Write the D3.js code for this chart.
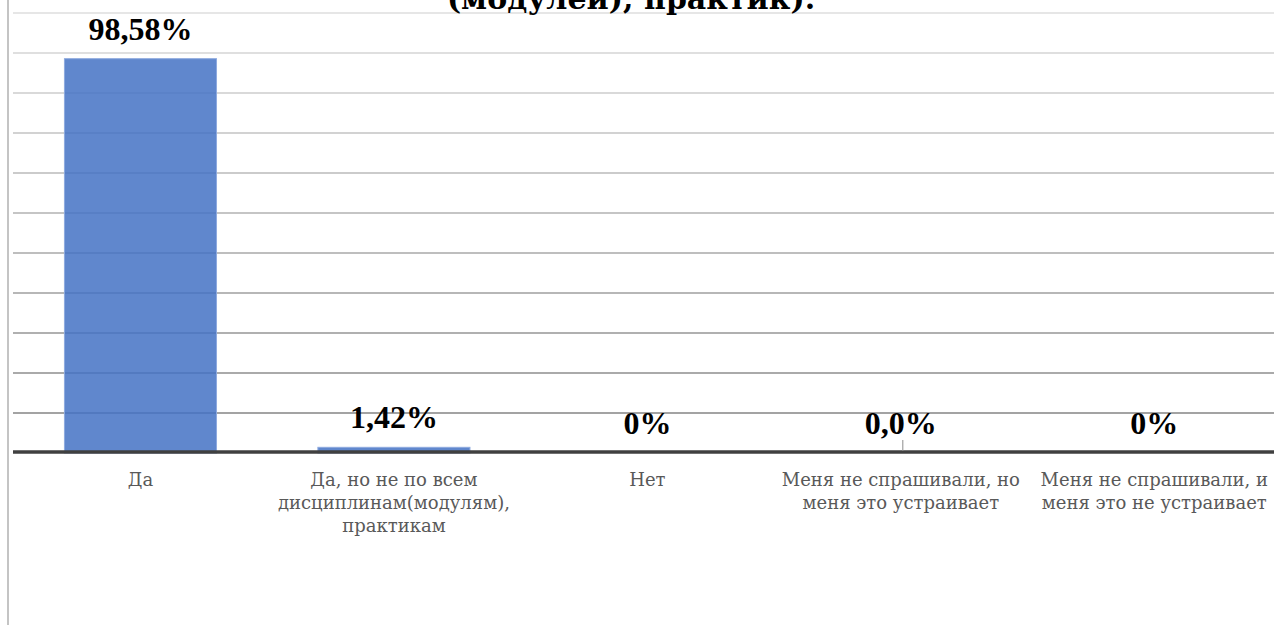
<!DOCTYPE html>
<html>
<head>
<meta charset="utf-8">
<script src="https://cdn.jsdelivr.net/npm/d3@7"></script>
<style>
  body { margin: 0; background: #fff; }
  #chart svg { display: block; }
</style>
</head>
<body>
<div id="chart"></div>
<script>
// data
var categories = ["Да", "Да, но не по всем дисциплинам(модулям), практикам", "Нет",
  "Меня не спрашивали, но меня это устраивает", "Меня не спрашивали, и меня это не устраивает"];
var labelLines = [
  ["Да"],
  ["Да, но не по всем", "дисциплинам(модулям),", "практикам"],
  ["Нет"],
  ["Меня не спрашивали, но", "меня это устраивает"],
  ["Меня не спрашивали, и", "меня это не устраивает"]
];
var values = [98.58, 1.42, 0, 0, 0];
var valueLabels = ["98,58%", "1,42%", "0%", "0,0%", "0%"];
var gridTicks = [10, 20, 30, 40, 50, 60, 70, 80, 90, 100, 110];
var titleText = "(модулей), практик).";

var W = 1274, H = 625;
var svg = d3.select("#chart").append("svg")
  .attr("width", W)
  .attr("height", H);

var x = d3.scaleBand()
  .domain(categories)
  .range([13.75, 1281])
  .paddingInner(0.4)
  .paddingOuter(0.2);

var y = d3.scaleLinear()
  .domain([0, 110])
  .range([453, 13]);

// left border of the frame
svg.append("line")
  .attr("x1", 8).attr("x2", 8)
  .attr("y1", 0).attr("y2", H)
  .style("stroke", "#c4c4c4")
  .style("stroke-width", 2);

// gridlines get darker towards the bottom
var gridColor = d3.scaleLinear().domain([110, 10]).range(["#e6e6e6", "#a3a3a3"]);
svg.append("g")
  .selectAll("line")
  .data(gridTicks)
  .enter()
  .append("line")
  .attr("x1", 13).attr("x2", W)
  .attr("y1", function(d){ return y(d); })
  .attr("y2", function(d){ return y(d); })
  .style("stroke", function(d){ return gridColor(d); })
  .style("stroke-width", 2);

// bars
svg.append("g")
  .selectAll("rect")
  .data(values)
  .enter()
  .append("rect")
  .attr("x", function(d, i){ return x(categories[i]); })
  .attr("width", x.bandwidth())
  .attr("y", function(d){ return y(d); })
  .attr("height", function(d){ return y(0) - y(d); })
  .style("fill", "#4472c4")
  .style("fill-opacity", 0.85)
  .style("stroke", "#8eaadf")
  .style("stroke-width", 1);

// baseline
svg.append("line")
  .attr("x1", 13).attr("x2", W)
  .attr("y1", y(0) - 1).attr("y2", y(0) - 1)
  .style("stroke", "#404040")
  .style("stroke-width", 3.5);

// the lone tick above the axis
svg.append("line")
  .attr("x1", x(categories[3]) + x.bandwidth() / 2 + 2)
  .attr("x2", x(categories[3]) + x.bandwidth() / 2 + 2)
  .attr("y1", y(0) - 13).attr("y2", y(0) - 2)
  .style("stroke", "#8c8c8c")
  .style("stroke-width", 1);

// value labels
svg.append("g")
  .selectAll("text")
  .data(values)
  .enter()
  .append("text")
  .attr("x", function(d, i){ return x(categories[i]) + x.bandwidth() / 2; })
  .attr("y", function(d){ return y(d) - 19; })
  .attr("text-anchor", "middle")
  .style("font-family", "'Liberation Serif', 'DejaVu Serif', serif")
  .style("font-weight", "bold")
  .style("font-size", "32px")
  .style("fill", "#000")
  .text(function(d, i){ return valueLabels[i]; });

// category labels (cyrillic needs DejaVu Serif here)
var cats = svg.append("g")
  .selectAll("text")
  .data(labelLines)
  .enter()
  .append("text")
  .attr("text-anchor", "middle")
  .attr("transform", function(d, i){
    return "translate(" + (x(categories[i]) + x.bandwidth() / 2) + ",486)";
  })
  .style("font-family", "'DejaVu Serif', serif")
  .style("font-size", "18px")
  .style("fill", "#595959");
cats.selectAll("tspan")
  .data(function(d){ return d; })
  .enter()
  .append("tspan")
  .attr("x", 0)
  .attr("y", function(d, j){ return j * 23; })
  .text(function(d){ return d; });

// title, mostly above the visible area
svg.append("text")
  .attr("x", 631)
  .attr("y", 9)
  .attr("text-anchor", "middle")
  .style("font-family", "'DejaVu Serif', serif")
  .style("font-weight", "bold")
  .style("font-size", "30px")
  .style("fill", "#000")
  .text(titleText);
</script>
</body>
</html>
